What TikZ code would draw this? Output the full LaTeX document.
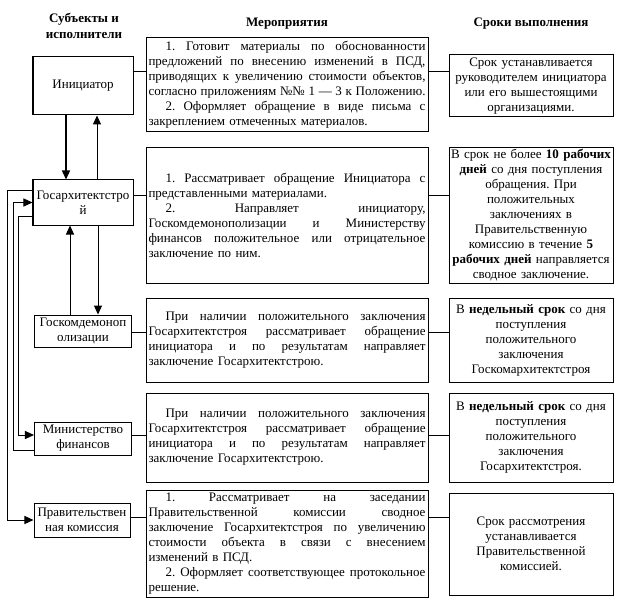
\documentclass[tikz,border=0pt]{standalone}
\usepackage{fontspec}
\setmainfont{Liberation Serif}
\usetikzlibrary{arrows.meta}

% one line of a justified paragraph, and a last (ragged) line
\newcommand\jline[1]{\hbox to 277bp{\spaceskip=0.25em plus 1fil\relax #1}}
\newcommand\lline[1]{\hbox{#1}}
\newcommand\ind{\hskip17bp}

\tikzset{
  txt/.style={font=\fontsize{13bp}{15bp}\selectfont\frenchspacing},
  head/.style={txt, font=\fontsize{13bp}{16bp}\selectfont\bfseries, align=center},
  subj/.style={txt, draw, line width=1bp, align=center, inner sep=1bp},
  work/.style={txt, draw, line width=1bp, minimum width=282bp, text width=277bp, inner sep=2.5bp},
  term/.style={txt, draw, line width=1bp, minimum width=164bp, text width=160bp, align=center, inner sep=1bp},
  arr/.style={-{Triangle[length=9bp,width=8bp]}},
  link/.style={line width=1bp}
}

\begin{document}
\begin{tikzpicture}[x=1bp, y=-1bp]

\useasboundingbox (0,0) rectangle (623,602);

% Headers
\node[head] (h1) at (84,26) {Субъекты и\\исполнители};
\node[head] (h2) at (287,24) {Мероприятия};
\node[head] (h3) at (531,24) {Сроки выполнения};

% Subjects
\node[subj, minimum width=100bp, minimum height=58bp] (init) at (83,86) {Инициатор};
\node[subj, minimum width=100bp, minimum height=45bp] (gas) at (83,202.5) {Госархитектстро\\й};
\node[subj, minimum width=97bp, minimum height=32bp] (gkd) at (83,331) {Госкомдемоноп\\олизации};
\node[subj, minimum width=97bp, minimum height=33bp] (mf) at (83,438.5) {Министерство\\финансов};
\node[subj, minimum width=96bp, minimum height=34bp] (pk) at (82,520) {Правительствен\\ная комиссия};

% Measures
\node[work, minimum height=94bp] (m1) at (287,85) {\vbox{%
  \jline{\ind 1. Готовит материалы по обоснованности}%
  \jline{предложений по внесению изменений в ПСД,}%
  \jline{приводящих к увеличению стоимости объектов,}%
  \jline{согласно приложениям №№ 1 — 3 к Положению.}%
  \jline{\ind 2. Оформляет обращение в виде письма с}%
  \lline{закреплением отмеченных материалов.}}};
\node[work, minimum height=135bp] (m2) at (287,215.5) {\vbox{%
  \jline{\ind 1. Рассматривает обращение Инициатора с}%
  \lline{представленными материалами.}%
  \jline{\ind 2. Направляет инициатору,}%
  \jline{Госкомдемонополизации и Министерству}%
  \jline{финансов положительное или отрицательное}%
  \lline{заключение по ним.}}};
\node[work, minimum height=84bp] (m3) at (287,340) {\vbox{%
  \jline{\ind При наличии положительного заключения}%
  \jline{Госархитектстроя рассматривает обращение}%
  \jline{инициатора и по результатам направляет}%
  \lline{заключение Госархитектстрою.}}};
\node[work, minimum height=89bp] (m4) at (287,437.5) {\vbox{%
  \jline{\ind При наличии положительного заключения}%
  \jline{Госархитектстроя рассматривает обращение}%
  \jline{инициатора и по результатам направляет}%
  \lline{заключение Госархитектстрою.}}};
\node[work, minimum height=102bp] (m5) at (287,544) {\vbox{%
  \jline{\ind 1. Рассматривает на заседании}%
  \jline{Правительственной комиссии сводное}%
  \jline{заключение Госархитектстроя по увеличению}%
  \jline{стоимости объекта в связи с внесением}%
  \lline{изменений в ПСД.}%
  \jline{\ind 2. Оформляет соответствующее протокольное}%
  \lline{решение.}}};

% Terms
\node[term, minimum height=62bp] (s1) at (531,86) {Срок устанавливается\\руководителем инициатора\\или его вышестоящими\\организациями.};
\node[term, minimum height=135bp] (s2) at (531,215.5) {В срок не более \textbf{10 рабочих}\\\textbf{дней} со дня поступления\\обращения. При\\положительных\\заключениях в\\Правительственную\\комиссию в течение \textbf{5}\\\textbf{рабочих дней} направляется\\сводное заключение.};
\node[term, minimum height=84bp] (s3) at (531,340) {В \textbf{недельный срок} со дня\\поступления\\положительного\\заключения\\Госкомархитектстроя};
\node[term, minimum height=89bp] (s4) at (531,437.5) {В \textbf{недельный срок} со дня\\поступления\\положительного\\заключения\\Госархитектстроя.};
\node[term, minimum height=102bp] (s5) at (531,544) {Срок рассмотрения\\устанавливается\\Правительственной\\комиссией.};

% Row links
\coordinate (r1) at (0,72);
\coordinate (r2) at (0,195);
\coordinate (r3) at (0,332);
\coordinate (r4) at (0,435);
\coordinate (r5) at (0,517);
\foreach \s/\m/\t/\r in {init/m1/s1/r1, gas/m2/s2/r2, gkd/m3/s3/r3, mf/m4/s4/r4, pk/m5/s5/r5}{
  \draw[link] (\s.east |- \r) -- (\m.west |- \r);
  \draw[link] (\m.east |- \r) -- (\t.west |- \r);
}

% Initiator <-> Gosarkhitektstroy
\draw[link, line width=1.4bp, arr] ([xshift=-17bp]init.south) -- ([xshift=-17bp]init.south |- gas.north);
\draw[link, arr] ([xshift=14bp]gas.north) -- ([xshift=14bp]gas.north |- init.south);

% Gosarkhitektstroy <-> Goskomdemonopolizatsii
\draw[link, arr] ([xshift=-13bp]gkd.north) -- ([xshift=-13bp]gkd.north |- gas.south);
\draw[link, arr] ([xshift=15bp]gas.south) -- ([xshift=15bp]gas.south |- gkd.north);

% Gosarkhitektstroy -> Ministry, Ministry -> Gosarkhitektstroy, Gosarkhitektstroy -> Commission
\draw[link, arr] ([yshift=12bp]gas.west) -- ++(-25,0) |- (pk.west);
\draw[link, arr] ([yshift=-13.5bp]gas.west) -- ++(-14,0) |- ([yshift=3.5bp]mf.west);
\draw[link, arr] ([yshift=-11.5bp]mf.west) -- ++(-20,0) |- (gas.west);

\end{tikzpicture}
\end{document}
